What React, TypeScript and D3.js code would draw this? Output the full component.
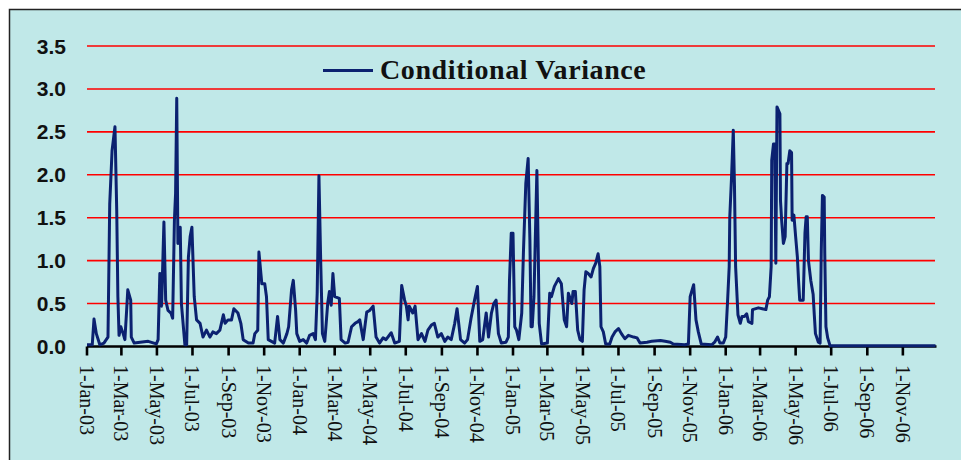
import React, { useEffect, useRef } from 'react';
import * as d3 from 'd3';

// conditional variance (MM-DD per year)
const days2003 = ['01-01','01-10','01-13','01-17','01-23','01-30','02-03','02-06','02-09','02-13','02-18','02-21','02-23','02-25','02-28','03-04','03-07','03-10','03-12','03-17','03-18','03-23','04-16','04-30','05-03','05-06','05-09','05-13','05-16','05-20','05-25','05-28','05-31','06-02','06-04','06-06','06-10','06-12','06-18','06-21','06-24','06-27','06-30','07-04','07-08','07-14','07-19','07-25','07-31','08-05','08-11','08-17','08-23','08-26','08-31','09-06','09-10','09-17','09-22','09-26','10-05','10-13','10-16','10-21','10-23','10-28','11-02','11-05','11-08','11-19','11-24','11-28','12-04','12-10','12-13','12-18','12-21','12-25','12-27'];
const vals2003 = [0.02,0.02,0.32,0.15,0.02,0.04,0.08,0.11,1.66,2.28,2.56,1.59,0.58,0.13,0.23,0.15,0.08,0.42,0.66,0.54,0.11,0.04,0.06,0.03,0.08,0.85,0.47,1.45,0.54,0.42,0.39,0.33,1.47,1.78,2.89,1.2,1.39,0.5,0.02,0.02,1.04,1.28,1.39,0.58,0.31,0.27,0.11,0.19,0.11,0.17,0.15,0.19,0.37,0.27,0.31,0.31,0.44,0.39,0.27,0.08,0.04,0.04,0.15,0.19,1.1,0.73,0.73,0.58,0.08,0.04,0.35,0.08,0.04,0.15,0.23,0.66,0.77,0.42,0.15];

const days2004 = ['01-01','01-07','01-13','01-18','01-24','01-28','01-31','02-03','02-06','02-09','02-13','02-15','02-18','02-21','02-24','02-27','03-01','03-09','03-12','03-19','03-24','03-30','04-05','04-10','04-13','04-19','04-25','04-30','05-06','05-11','05-17','05-23','05-28','06-06','06-12','06-20','06-24','06-29','07-02','07-05','07-07','07-13','07-17','07-22','07-28','08-03','08-08','08-14','08-19','08-25','08-31','09-06','09-11','09-17','09-23','09-27','10-03','10-10','10-15','10-21','10-27','11-01','11-05','11-10','11-16','11-20','11-25','11-29','12-03','12-07','12-12','12-20','12-24','12-26','12-29'];
const vals2004 = [0.06,0.08,0.04,0.13,0.15,0.08,0.62,1.99,1.0,0.15,0.06,0.23,0.5,0.64,0.48,0.85,0.58,0.56,0.08,0.04,0.05,0.23,0.27,0.29,0.31,0.08,0.4,0.42,0.47,0.11,0.04,0.1,0.08,0.16,0.04,0.06,0.71,0.54,0.47,0.31,0.47,0.39,0.47,0.08,0.15,0.06,0.19,0.25,0.27,0.11,0.15,0.06,0.11,0.08,0.27,0.44,0.08,0.04,0.08,0.33,0.54,0.7,0.06,0.08,0.39,0.11,0.39,0.5,0.54,0.15,0.04,0.05,0.11,0.77,1.32];

const days2005 = ['01-01','01-04','01-07','01-11','01-16','01-19','01-23','01-27','01-30','02-01','02-03','02-06','02-11','02-13','02-15','02-19','03-01','03-05','03-08','03-13','03-20','03-25','03-30','04-03','04-06','04-12','04-14','04-18','04-22','04-26','04-30','05-03','05-06','05-10','05-15','05-19','05-23','05-27','05-30','06-01','06-05','06-09','06-16','06-20','06-25','07-01','07-06','07-12','07-18','07-27','08-02','08-07','08-19','08-27','09-11','09-19','09-28','10-03','10-23','10-29','11-01','11-07','11-11','11-15','11-20','12-08','12-13','12-18','12-22','12-28'];
const vals2005 = [1.32,0.23,0.19,0.08,0.39,1.12,1.9,2.19,1.24,0.23,0.23,0.58,2.05,1.24,0.27,0.03,0.04,0.62,0.58,0.7,0.79,0.73,0.31,0.23,0.62,0.5,0.64,0.64,0.19,0.08,0.06,0.66,0.87,0.85,0.81,0.91,0.97,1.08,0.93,0.23,0.17,0.03,0.03,0.11,0.17,0.21,0.15,0.09,0.13,0.11,0.1,0.04,0.05,0.06,0.07,0.06,0.05,0.03,0.02,0.03,0.58,0.72,0.31,0.17,0.03,0.02,0.05,0.11,0.04,0.04];

const days2006 = ['01-01','01-04','01-07','01-08','01-11','01-14','01-16','01-18','01-22','01-26','01-29','02-02','02-06','02-09','02-15','02-16','02-26','03-11','03-14','03-17','03-20','03-21','03-24','03-26','03-28','03-30','04-04','04-05','04-07','04-10','04-13','04-16','04-18','04-21','04-24','04-25','04-28','05-01','05-04','05-06','05-08','05-14','05-17','05-19','05-21','05-23','05-27','05-31','06-02','06-04','06-09','06-12','06-14','06-16','06-19','06-20','06-22','06-25','06-29','12-27'];
const vals2006 = [0.11,0.5,0.93,1.51,1.97,2.52,1.89,0.93,0.37,0.27,0.35,0.35,0.38,0.29,0.27,0.43,0.45,0.43,0.54,0.58,0.93,2.17,2.36,2.36,0.97,2.79,2.71,1.7,1.47,1.2,1.28,2.13,2.13,2.28,2.26,1.47,1.53,1.28,1.04,0.77,0.54,0.54,1.32,1.51,1.51,1.0,0.77,0.61,0.37,0.15,0.05,0.04,1.12,1.76,1.74,1.08,0.23,0.1,0.01,0.01];

const yTicks = [0, 0.5, 1, 1.5, 2, 2.5, 3, 3.5];
const legendLabel = 'Conditional Variance';

const parse = d3.timeParse('%Y-%m-%d');

function buildSeries() {
  const years: [string, string[], number[]][] = [
    ['2003', days2003, vals2003],
    ['2004', days2004, vals2004],
    ['2005', days2005, vals2005],
    ['2006', days2006, vals2006],
  ];
  const out: { date: Date; value: number }[] = [];
  years.forEach(([yr, days, vals]) => {
    days.forEach((d, i) => out.push({ date: parse(`${yr}-${d}`) as Date, value: vals[i] }));
  });
  return out;
}

export default function App() {
  const ref = useRef<SVGSVGElement>(null);

  useEffect(() => {
    const svg = d3.select(ref.current);
    svg.selectAll('*').remove();
    const data = buildSeries();

    const x = d3.scaleTime()
      .domain([parse('2003-01-01') as Date, parse('2006-12-27') as Date])
      .range([87, 935.5]);
    const y = d3.scaleLinear().domain([0, 3.5]).range([346.5, 46]);

    svg.append('rect')
      .attr('x', 9.5).attr('y', 9.5)
      .attr('width', 960).attr('height', 460)
      .attr('fill', '#c0e8e8')
      .attr('stroke', '#222').attr('stroke-width', 1.5);

    // red gridlines
    svg.append('g').selectAll('line')
      .data(yTicks.filter(t => t > 0))
      .join('line')
      .attr('x1', 87).attr('x2', 935)
      .attr('y1', d => y(d)).attr('y2', d => y(d))
      .attr('stroke', '#ff0000').attr('stroke-width', 1.6);

    // y labels
    svg.append('g').selectAll('text')
      .data(yTicks)
      .join('text')
      .attr('x', 66).attr('y', d => y(d))
      .attr('text-anchor', 'end')
      .attr('dominant-baseline', 'central')
      .attr('font-family', '"Liberation Sans", Arial, sans-serif')
      .attr('font-weight', 'bold')
      .attr('font-size', 21)
      .attr('fill', '#111')
      .text(d => d3.format('.1f')(d));

    // x axis
    const xTicks = d3.timeMonth.every(2)!.range(parse('2003-01-01') as Date, parse('2006-12-01') as Date);
    const xAxis = svg.append('g');
    xAxis.append('line')
      .attr('x1', 87).attr('x2', 936.5)
      .attr('y1', y(0)).attr('y2', y(0))
      .attr('stroke', '#000').attr('stroke-width', 2.6);
    xAxis.selectAll('line.tick')
      .data(xTicks)
      .join('line')
      .attr('class', 'tick')
      .attr('x1', d => x(d)).attr('x2', d => x(d))
      .attr('y1', y(0)).attr('y2', y(0) + 9)
      .attr('stroke', '#000').attr('stroke-width', 2.6);
    xAxis.selectAll('text')
      .data(xTicks)
      .join('text')
      .attr('transform', d => `translate(${x(d)},365) rotate(90)`)
      .attr('dominant-baseline', 'central')
      .attr('font-family', '"Liberation Serif", "Times New Roman", serif')
      .attr('font-size', 20)
      .attr('fill', '#111')
      .text(d => d3.timeFormat('%-d-%b-%y')(d));

    // series
    const line = d3.line<{ date: Date; value: number }>()
      .x(d => x(d.date))
      .y(d => y(d.value));
    svg.append('path')
      .datum(data)
      .attr('fill', 'none')
      .attr('stroke', '#0b2170')
      .attr('stroke-width', 3)
      .attr('stroke-linejoin', 'round')
      .attr('d', line);

    // legend
    svg.append('line')
      .attr('x1', 323).attr('x2', 373)
      .attr('y1', 70.5).attr('y2', 70.5)
      .attr('stroke', '#0b2170').attr('stroke-width', 3);
    svg.append('text')
      .attr('x', 380).attr('y', 79)
      .attr('font-family', '"Liberation Serif", "Times New Roman", serif')
      .attr('font-weight', 'bold')
      .attr('font-size', 28)
      .attr('letter-spacing', 0.6)
      .attr('fill', '#111')
      .text(legendLabel);
  }, []);

  return (
    <svg ref={ref} width={961} height={460}
      style={{ position: 'absolute', left: 0, top: 0, display: 'block' }} />
  );
}
